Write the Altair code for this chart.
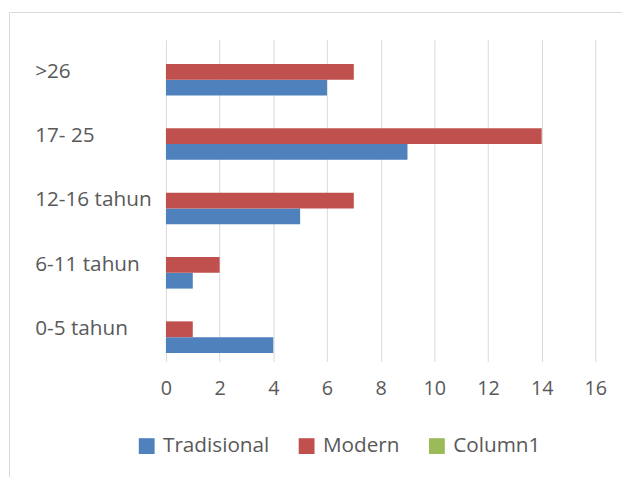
import altair as alt
import pandas as pd

categories = [">26", "17- 25", "12-16 tahun", "6-11 tahun", "0-5 tahun"]
tradisional = [6, 9, 5, 1, 4]
modern = [7, 14, 7, 2, 1]
series_names = ["Tradisional", "Modern", "Column1"]
series_colors = ["#4f81bd", "#c0504d", "#9bbb59"]
x_ticks = [0, 2, 4, 6, 8, 10, 12, 14, 16]

rows = []
for c, t, m in zip(categories, tradisional, modern):
    rows.append({"cat": c, "series": "Tradisional", "value": t})
    rows.append({"cat": c, "series": "Modern", "value": m})
df = pd.DataFrame(rows)

FONT = "Open Sans"
GRAY = "#595959"

border = alt.Chart(alt.Data(values=[{}])).mark_rect(
    filled=False, stroke="#d9d9d9", strokeWidth=1
).encode(
    x=alt.value(-158.5), x2=alt.value(520), y=alt.value(-27.5), y2=alt.value(520)
)

bars = alt.Chart(df).mark_bar().encode(
    y=alt.Y("cat:N", sort=categories,
            scale=alt.Scale(paddingInner=0.264, paddingOuter=0.132),
            axis=alt.Axis(title=None, ticks=False, tickSize=0, domain=False,
                          labelAlign="left", labelPadding=133,
                          labelFont=FONT, labelFontSize=21, labelColor=GRAY)),
    yOffset=alt.YOffset("series:N",
                        scale=alt.Scale(domain=["Column1", "Modern", "Tradisional"])),
    x=alt.X("value:Q", scale=alt.Scale(domain=[0, 16], nice=False),
            axis=alt.Axis(title=None, values=x_ticks, ticks=False, tickSize=0,
                          domain=False, grid=True, gridColor="#d9d9d9",
                          labelFlush=False, labelBaseline="middle",
                          labelPadding=27, labelFont=FONT, labelFontSize=20,
                          labelColor=GRAY)),
    color=alt.Color("series:N",
                    scale=alt.Scale(domain=series_names, range=series_colors),
                    legend=alt.Legend(title=None, orient="none", direction="horizontal",
                                      legendX=-30, legendY=401, padding=0,
                                      symbolType="square", symbolSize=256,
                                      symbolStrokeWidth=0, labelOffset=6,
                                      columnPadding=27, labelFont=FONT,
                                      labelFontSize=21, labelColor=GRAY)),
)

chart = alt.layer(border, bars).properties(
    width=435, height=326,
    padding={"left": 160, "top": 29, "right": 27, "bottom": 114},
    autosize=alt.AutoSizeParams(type="none"),
).configure_view(stroke=None)

chart.save("out.html", embed_options={"renderer": "svg", "actions": False})
